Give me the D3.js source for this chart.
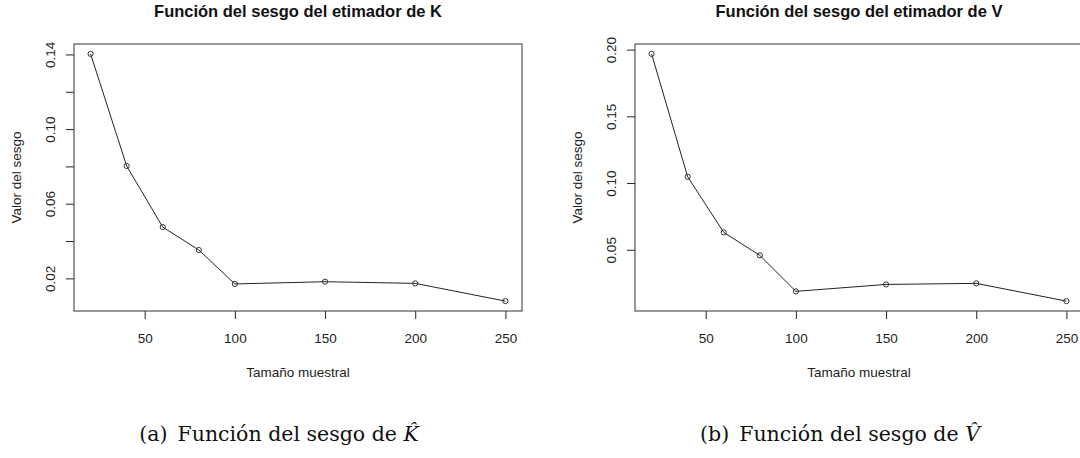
<!DOCTYPE html>
<html>
<head>
<meta charset="utf-8">
<script src="https://cdn.jsdelivr.net/npm/d3@7"></script>
<style>
  html, body { margin: 0; padding: 0; background: #fff; }
  svg { display: block; }
</style>
</head>
<body>
<svg id="fig" width="1080" height="458"></svg>
<script>
// Sample sizes and the estimated bias of each estimator
const tamanos = [20, 40, 60, 80, 100, 150, 200, 250];
const sesgoK = [0.1403, 0.0802, 0.0475, 0.0352, 0.0170, 0.0182, 0.0173, 0.0078];
const sesgoV = [0.1968, 0.1047, 0.0630, 0.0458, 0.0188, 0.0240, 0.0248, 0.0115];

// Axis ticks
const xTicks = [50, 100, 150, 200, 250];
const yTicksK = [0.02, 0.04, 0.06, 0.08, 0.10, 0.12, 0.14];
const yLabelsK = [0.02, 0.06, 0.10, 0.14];
const yTicksV = [0.05, 0.10, 0.15, 0.20];
const yLabelsV = [0.05, 0.10, 0.15, 0.20];

// Titles and captions
const titulos = ["Función del sesgo del etimador de K", "Función del sesgo del etimador de V"];
const etiquetaX = "Tamaño muestral";
const etiquetaY = "Valor del sesgo";
const subLetras = ["(a)", "(b)"];
const subTexto = "Función del sesgo de";
const subSimbolos = ["K\u0302", "V\u0302"];

const svg = d3.select("#fig");
const SANS = "'Liberation Sans', Arial, sans-serif";
const SERIF = "'DejaVu Serif', serif";
const INK = "#222";

// R-style 4% padding around the data range
function padded(ext) {
  const d = (ext[1] - ext[0]) * 0.04;
  return [ext[0] - d, ext[1] + d];
}

const panels = [
  { left: 74, right: 522, values: sesgoK, ticks: yTicksK, labels: yLabelsK },
  { left: 635, right: 1083, values: sesgoV, ticks: yTicksV, labels: yLabelsV }
];
const plotTop = 44, plotBottom = 311;

panels.forEach((p, i) => {
  const g = svg.append("g");
  const x = d3.scaleLinear().domain(padded(d3.extent(tamanos))).range([p.left, p.right]);
  const y = d3.scaleLinear().domain(padded(d3.extent(p.values))).range([plotBottom, plotTop]);
  const cx = (p.left + p.right) / 2;
  const cy = (plotTop + plotBottom) / 2;

  // x axis
  const xa = g.append("g")
    .attr("transform", `translate(0,${plotBottom})`)
    .call(d3.axisBottom(x).tickValues(xTicks).tickSize(8).tickPadding(10).tickFormat(d3.format("d")));
  xa.select(".domain").remove();
  xa.selectAll("line").attr("stroke", INK);
  xa.selectAll("text")
    .attr("font-family", SANS).attr("font-size", 13.5).attr("fill", INK)
    .attr("dy", null).attr("y", 31.5);

  // y axis, labels drawn parallel to the axis
  const ya = g.append("g")
    .attr("transform", `translate(${p.left},0)`)
    .call(d3.axisLeft(y).tickValues(p.ticks).tickSize(8)
      .tickFormat(d => p.labels.some(v => Math.abs(v - d) < 1e-9) ? d3.format(".2f")(d) : ""));
  ya.select(".domain").remove();
  ya.selectAll("line").attr("stroke", INK);
  ya.selectAll("text")
    .attr("font-family", SANS).attr("font-size", 13.5).attr("fill", INK)
    .attr("x", null).attr("dy", null)
    .attr("text-anchor", "middle")
    .attr("transform", "translate(-19.5,0) rotate(-90)");

  // plot frame
  g.append("rect")
    .attr("x", p.left).attr("y", plotTop)
    .attr("width", p.right - p.left).attr("height", plotBottom - plotTop)
    .attr("fill", "none").attr("stroke", "#333").attr("stroke-width", 1);

  // line with open circles
  const pts = tamanos.map((t, k) => [t, p.values[k]]);
  g.append("path")
    .datum(pts)
    .attr("fill", "none").attr("stroke", INK).attr("stroke-width", 1)
    .attr("d", d3.line().x(d => x(d[0])).y(d => y(d[1])));
  g.selectAll("circle").data(pts).join("circle")
    .attr("cx", d => x(d[0])).attr("cy", d => y(d[1])).attr("r", 2.6)
    .attr("fill", "none").attr("stroke", "#333").attr("stroke-width", 1);

  // titles
  g.append("text")
    .attr("x", cx).attr("y", 17).attr("text-anchor", "middle")
    .attr("font-family", SANS).attr("font-weight", "bold").attr("font-size", 16.5).attr("fill", "#111")
    .text(titulos[i]);
  g.append("text")
    .attr("x", cx).attr("y", 376.5).attr("text-anchor", "middle")
    .attr("font-family", SANS).attr("font-size", 13.5).attr("fill", INK)
    .text(etiquetaX);
  g.append("text")
    .attr("transform", `translate(${p.left - 53},${cy}) rotate(-90)`)
    .attr("text-anchor", "middle")
    .attr("font-family", SANS).attr("font-size", 13.5).attr("fill", INK)
    .text(etiquetaY);
});

// Subfigure captions
const capCenters = [279, 840];
capCenters.forEach((c, i) => {
  const t = svg.append("text")
    .attr("x", c).attr("y", 441).attr("text-anchor", "middle")
    .attr("font-family", SERIF).attr("font-size", 20.5).attr("fill", "#111");
  t.append("tspan").text(subLetras[i]);
  t.append("tspan").attr("dx", 10).text(subTexto + " ");
  t.append("tspan").attr("font-style", "italic").text(subSimbolos[i]);
});
</script>
</body>
</html>
